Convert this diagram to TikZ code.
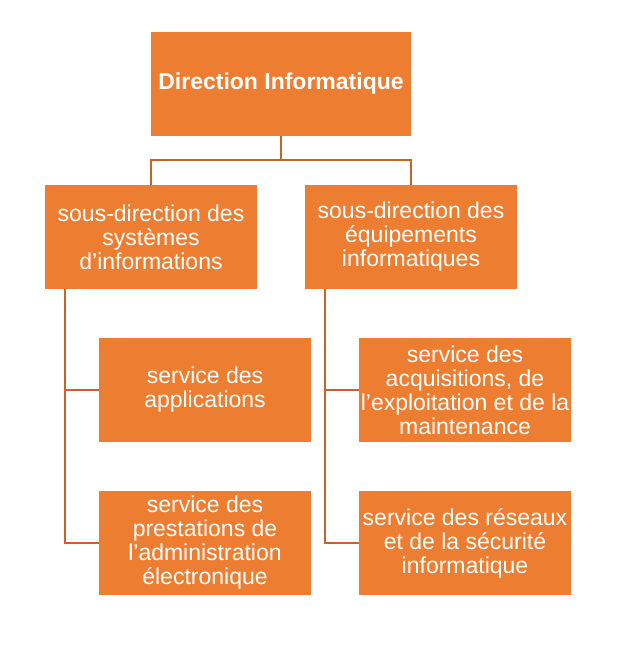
\documentclass[tikz,border=0pt]{standalone}
\usepackage{fontspec}
\setmainfont{Liberation Sans}
\usetikzlibrary{calc}
\definecolor{boxorange}{RGB}{237,125,49}
\definecolor{lineorange}{RGB}{200,100,40}
\tikzset{
	unit/.style={fill=boxorange, text=white, align=center, inner sep=0pt,
		minimum width=212pt, minimum height=104pt, font=\fontsize{23}{24}\selectfont},
	link/.style={draw=lineorange, line width=2.4pt}
}

\begin{document}
\begin{tikzpicture}[x=1pt, y=-1pt]
			%%%%% START %%%%%
			
			\useasboundingbox (0, 0) rectangle (632, 667);
			
			\node[unit, minimum width=260pt, font=\fontsize{23}{24}\selectfont\bfseries] (dir) at (281, 84) {Direction Informatique};
			
			\node[unit] (sdsi) at (151, 237) {sous-direction des\\systèmes\\d’informations};
			\node[unit] (sdei) at (411, 237) {sous-direction des\\équipements\\informatiques};
			
			\node[unit] (sapp) at (205, 390) {service des\\applications};
			\node[unit] (sadm) at (205, 543) {service des\\prestations de\\l’administration\\électronique};
			
			\node[unit] (sacq) at (465, 390) {service des\\acquisitions, de\\l’exploitation et de la\\maintenance};
			\node[unit] (sres) at (465, 543) {service des réseaux\\et de la sécurité\\informatique};
			
			\draw[link] (dir.south) -- ++(0, 24) coordinate (fork);
			\draw[link] (fork) -| (sdsi.north);
			\draw[link] (fork) -| (sdei.north);
			
			\coordinate (spinel) at ($(sdsi.south west)+(20, 0)$);
			\draw[link] (spinel) |- (sapp.west);
			\draw[link] (spinel) |- (sadm.west);
			
			\coordinate (spiner) at ($(sdei.south west)+(20, 0)$);
			\draw[link] (spiner) |- (sacq.west);
			\draw[link] (spiner) |- (sres.west);
			
			%%%%% END %%%%%
\end{tikzpicture}
\end{document}
